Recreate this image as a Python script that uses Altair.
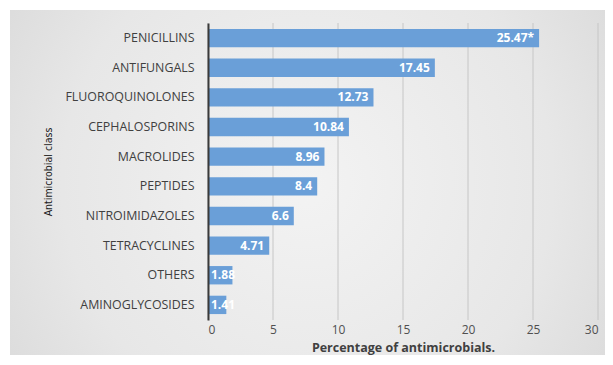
import altair as alt
import pandas as pd

classes = ["PENICILLINS", "ANTIFUNGALS", "FLUOROQUINOLONES", "CEPHALOSPORINS",
           "MACROLIDES", "PEPTIDES", "NITROIMIDAZOLES", "TETRACYCLINES",
           "OTHERS", "AMINOGLYCOSIDES"]
values = [25.47, 17.45, 12.73, 10.84, 8.96, 8.4, 6.6, 4.71, 1.88, 1.41]
labels = ["25.47*", "17.45", "12.73", "10.84", "8.96", "8.4", "6.6", "4.71", "1.88", "1.41"]
ticks = [0, 5, 10, 15, 20, 25, 30]

df = pd.DataFrame({"cls": classes, "val": values, "lab": labels})
tdf = pd.DataFrame({"t": ticks})

W, H = 390, 297
PL, PT, PR, PB = 200, 15, 7, 35

bg = alt.Chart(pd.DataFrame({"a": [0]})).mark_rect(
    color=alt.Gradient(
        gradient="radial",
        x1=0.5, y1=0.5, r1=0.0, x2=0.5, y2=0.5, r2=0.75,
        stops=[alt.GradientStop(color="#f3f3f3", offset=0),
               alt.GradientStop(color="#e7e7e7", offset=0.55),
               alt.GradientStop(color="#d2d2d2", offset=1)],
    )
).encode(
    x=alt.value(-PL + 2), x2=alt.value(W + PR),
    y=alt.value(-PT + 2), y2=alt.value(H + PB),
)

grid = alt.Chart(tdf).mark_rule(color="#c6c6c6", strokeWidth=1).encode(
    x=alt.X("t:Q", scale=alt.Scale(domain=[0, 30])),
    y=alt.value(0), y2=alt.value(H),
)

y_enc = alt.Y("cls:N", sort=classes, title="Antimicrobial class",
              scale=alt.Scale(paddingInner=0.38, paddingOuter=0.2),
              axis=alt.Axis(labelFont="Open Sans", labelFontSize=12.4, labelColor="#404040",
                            labelPadding=14, ticks=False, domainColor="#3a3a3a",
                            domainWidth=2,
                            titleFont="DejaVu Sans Condensed, Liberation Sans, sans-serif",
                            titleFontSize=10.5, titleFontWeight="normal",
                            titleColor="#1a1a1a", titlePadding=11, zindex=1))
x_enc = alt.X("val:Q", title="Percentage of antimicrobials.",
              scale=alt.Scale(domain=[0, 30]),
              axis=alt.Axis(values=ticks, grid=False, domain=False, ticks=False,
                            labelFont="Open Sans", labelFontSize=12, labelColor="#505050",
                            labelPadding=4, titleFont="Open Sans", titleFontSize=12.5,
                            titleFontWeight="bold", titleColor="#404040", titlePadding=6,
                            zindex=1))

bars = alt.Chart(df).mark_bar(color="#6a9fd8").encode(x=x_enc, y=y_enc)

text_big = alt.Chart(df).transform_filter("datum.val >= 3").mark_text(
    align="right", dx=-5, color="white", fontWeight="bold",
    font="Open Sans", fontSize=12).encode(
    x="val:Q", y=alt.Y("cls:N", sort=classes), text="lab:N")

text_small = alt.Chart(df).transform_filter("datum.val < 3").mark_text(
    align="left", dx=3, color="white", fontWeight="bold",
    font="Open Sans", fontSize=12).encode(
    x=alt.datum(0), y=alt.Y("cls:N", sort=classes), text="lab:N")

chart = alt.layer(bg, grid, bars, text_big, text_small).properties(
    width=W, height=H,
    autosize=alt.AutoSizeParams(type="none"),
    padding={"left": PL, "top": PT, "right": PR, "bottom": PB},
    background="white",
).configure_view(stroke=None)

chart.save("out.html", embed_options={"renderer": "svg", "actions": False})
